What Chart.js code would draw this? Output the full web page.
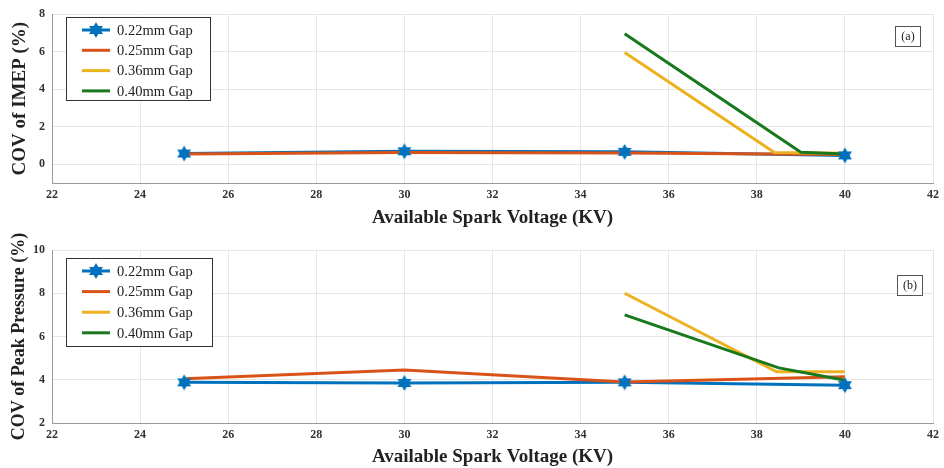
<!DOCTYPE html>
<html>
<head>
<meta charset="utf-8">
<script src="https://cdn.jsdelivr.net/npm/chart.js@4/dist/chart.umd.min.js"></script>
<style>
    body { margin: 0; background: #fff; }
    #wrap { position: relative; width: 944px; height: 468px; }
    canvas { position: absolute; left: 0; }
</style>
</head>
<body>
<div id="wrap">
    <canvas id="chart-a" width="944" height="232" style="top:0"></canvas>
    <canvas id="chart-b" width="944" height="236" style="top:232px"></canvas>
</div>
<script>
// Datos
const voltaje = [25, 30, 35, 40];
const ticksX = [22, 24, 26, 28, 30, 32, 34, 36, 38, 40, 42];
const nombresGap = ["0.22mm Gap", "0.25mm Gap", "0.36mm Gap", "0.40mm Gap"];

// (a) COV of IMEP
const ticksImep = [0, 2, 4, 6, 8];
const imep022 = [0.57, 0.69, 0.66, 0.47];
const imep025 = [0.55, 0.63, 0.6, 0.52];
const imep036X = [35, 38.4, 40];
const imep036 = [5.96, 0.62, 0.58];
const imep040X = [35, 39, 40];
const imep040 = [6.96, 0.64, 0.55];

// (b) COV of Peak Pressure
const ticksPico = [2, 4, 6, 8, 10];
const pico022 = [3.88, 3.85, 3.88, 3.75];
const pico025 = [4.05, 4.45, 3.9, 4.14];
const pico036X = [35, 38.45, 40];
const pico036 = [8.0, 4.37, 4.37];
const pico040X = [35, 38.5, 40];
const pico040 = [7.0, 4.55, 3.98];

const COLORES = ["#0072BD", "#D95319", "#EDB120", "#17791b"];
const FUENTE = "'Liberation Serif', 'DejaVu Serif', serif";

// marcador hexagrama (estrella de seis puntas) como en matlab
function crearEstrella(r) {
    const c = document.createElement("canvas");
    c.width = c.height = r * 2 + 2;
    const ctx = c.getContext("2d");
    const cx = r + 1, cy = r + 1;
    ctx.fillStyle = COLORES[0];
    [-Math.PI / 2, Math.PI / 2].forEach((a0) => {
        ctx.beginPath();
        for (let k = 0; k < 3; k++) {
            const a = a0 + (k * 2 * Math.PI) / 3;
            const px = cx + r * Math.cos(a), py = cy + r * Math.sin(a);
            k === 0 ? ctx.moveTo(px, py) : ctx.lineTo(px, py);
        }
        ctx.closePath();
        ctx.fill();
    });
    return c;
}
const estrella = crearEstrella(8);

const puntos = (xs, ys) => xs.map((x, i) => ({ x, y: ys[i] }));

// leyenda dentro del grafico + etiqueta (a)/(b)
const cuadroLeyenda = {
    id: "cuadroLeyenda",
    afterDraw(chart, args, opts) {
        const ctx = chart.ctx;
        const b = opts.caja;
        ctx.save();
        ctx.fillStyle = "#fff";
        ctx.strokeStyle = "#333";
        ctx.lineWidth = 1;
        ctx.fillRect(b.x, b.y, b.w, b.h);
        ctx.strokeRect(b.x + 0.5, b.y + 0.5, b.w, b.h);
        ctx.font = "14.5px " + FUENTE;
        ctx.textBaseline = "middle";
        nombresGap.forEach((n, i) => {
            const y = b.y + 13 + i * b.paso;
            ctx.strokeStyle = COLORES[i];
            ctx.lineWidth = 3;
            ctx.beginPath();
            ctx.moveTo(b.x + 16, y);
            ctx.lineTo(b.x + 44, y);
            ctx.stroke();
            if (i === 0) ctx.drawImage(estrella, b.x + 30 - estrella.width / 2, y - estrella.height / 2);
            ctx.fillStyle = "#222";
            ctx.fillText(n, b.x + 51, y + 1);
        });
        // etiqueta del panel
        const t = opts.tag;
        ctx.fillStyle = "#fff";
        ctx.strokeStyle = "#555";
        ctx.lineWidth = 1;
        ctx.fillRect(t.x, t.y, 25, 20);
        ctx.strokeRect(t.x + 0.5, t.y + 0.5, 25, 20);
        ctx.fillStyle = "#222";
        ctx.font = "12px " + FUENTE;
        ctx.textAlign = "center";
        ctx.fillText(t.texto, t.x + 13, t.y + 11);
        ctx.restore();
    },
};

function crearPanel(id, cfg) {
    const series = [
        { label: nombresGap[3], data: puntos(cfg.x040, cfg.y040), borderColor: COLORES[3], order: 1 },
        { label: nombresGap[2], data: puntos(cfg.x036, cfg.y036), borderColor: COLORES[2], order: 2 },
        { label: nombresGap[1], data: puntos(voltaje, cfg.y025), borderColor: COLORES[1], order: 3 },
        { label: nombresGap[0], data: puntos(voltaje, cfg.y022), borderColor: COLORES[0], order: 4 },
    ].map((d) => ({ ...d, borderWidth: 3, pointRadius: 0, tension: 0 }));
    // estrellas encima de todo
    series.push({
        label: nombresGap[0] + " marcador",
        data: puntos(voltaje, cfg.y022),
        showLine: false,
        pointStyle: estrella,
        pointRadius: 8,
        order: 0,
    });

    const ticksFont = { family: FUENTE, size: 12, weight: "bold" };
    const tituloFont = { family: FUENTE, size: 19, weight: "bold" };

    return new Chart(document.getElementById(id).getContext("2d"), {
        type: "line",
        data: { datasets: series },
        options: {
            responsive: false,
            animation: false,
            layout: { padding: { top: cfg.arriba, right: 6, left: 0, bottom: 0 } },
            plugins: {
                legend: { display: false },
                tooltip: { enabled: false },
                cuadroLeyenda: { caja: cfg.caja, tag: cfg.tag },
            },
            scales: {
                x: {
                    type: "linear",
                    min: 22,
                    max: 42,
                    afterBuildTicks: (s) => { s.ticks = ticksX.map((v) => ({ value: v })); },
                    afterFit: (s) => { s.height = cfg.altoX; },
                    ticks: { color: "#333", font: ticksFont, padding: 5, maxRotation: 0 },
                    grid: { color: "#e6e6e6", drawTicks: false },
                    border: { color: "#999" },
                    title: {
                        display: true,
                        text: "Available Spark Voltage (KV)",
                        color: "#222",
                        font: tituloFont,
                        padding: { top: 4, bottom: cfg.bajoTitulo },
                    },
                },
                y: {
                    min: cfg.yMin,
                    max: cfg.yMax,
                    afterBuildTicks: (s) => { s.ticks = cfg.ticksY.map((v) => ({ value: v })); },
                    afterFit: (s) => { s.width = 52; },
                    ticks: { color: "#333", font: ticksFont, padding: 7 },
                    grid: { color: "#e6e6e6", drawTicks: false },
                    border: { color: "#999" },
                    title: {
                        display: true,
                        text: cfg.tituloY,
                        color: "#222",
                        font: { ...tituloFont, size: cfg.tamTituloY },
                        padding: { top: 9, bottom: 0 },
                    },
                },
            },
        },
        plugins: [cuadroLeyenda],
    });
}

crearPanel("chart-a", {
    y022: imep022, y025: imep025, x036: imep036X, y036: imep036, x040: imep040X, y040: imep040,
    yMin: -1, yMax: 8, ticksY: ticksImep, tituloY: "COV of IMEP (%)", tamTituloY: 19,
    arriba: 10, altoX: 49, bajoTitulo: 3,
    caja: { x: 66, y: 17, w: 144, h: 83, paso: 20.3 },
    tag: { x: 895, y: 26, texto: "(a)" },
});

crearPanel("chart-b", {
    y022: pico022, y025: pico025, x036: pico036X, y036: pico036, x040: pico040X, y040: pico040,
    yMin: 2, yMax: 10, ticksY: ticksPico, tituloY: "COV of Peak Pressure (%)", tamTituloY: 18,
    arriba: 18, altoX: 45, bajoTitulo: 0,
    caja: { x: 66, y: 26, w: 146, h: 88, paso: 20.6 },
    tag: { x: 897, y: 43, texto: "(b)" },
});
</script>
</body>
</html>
